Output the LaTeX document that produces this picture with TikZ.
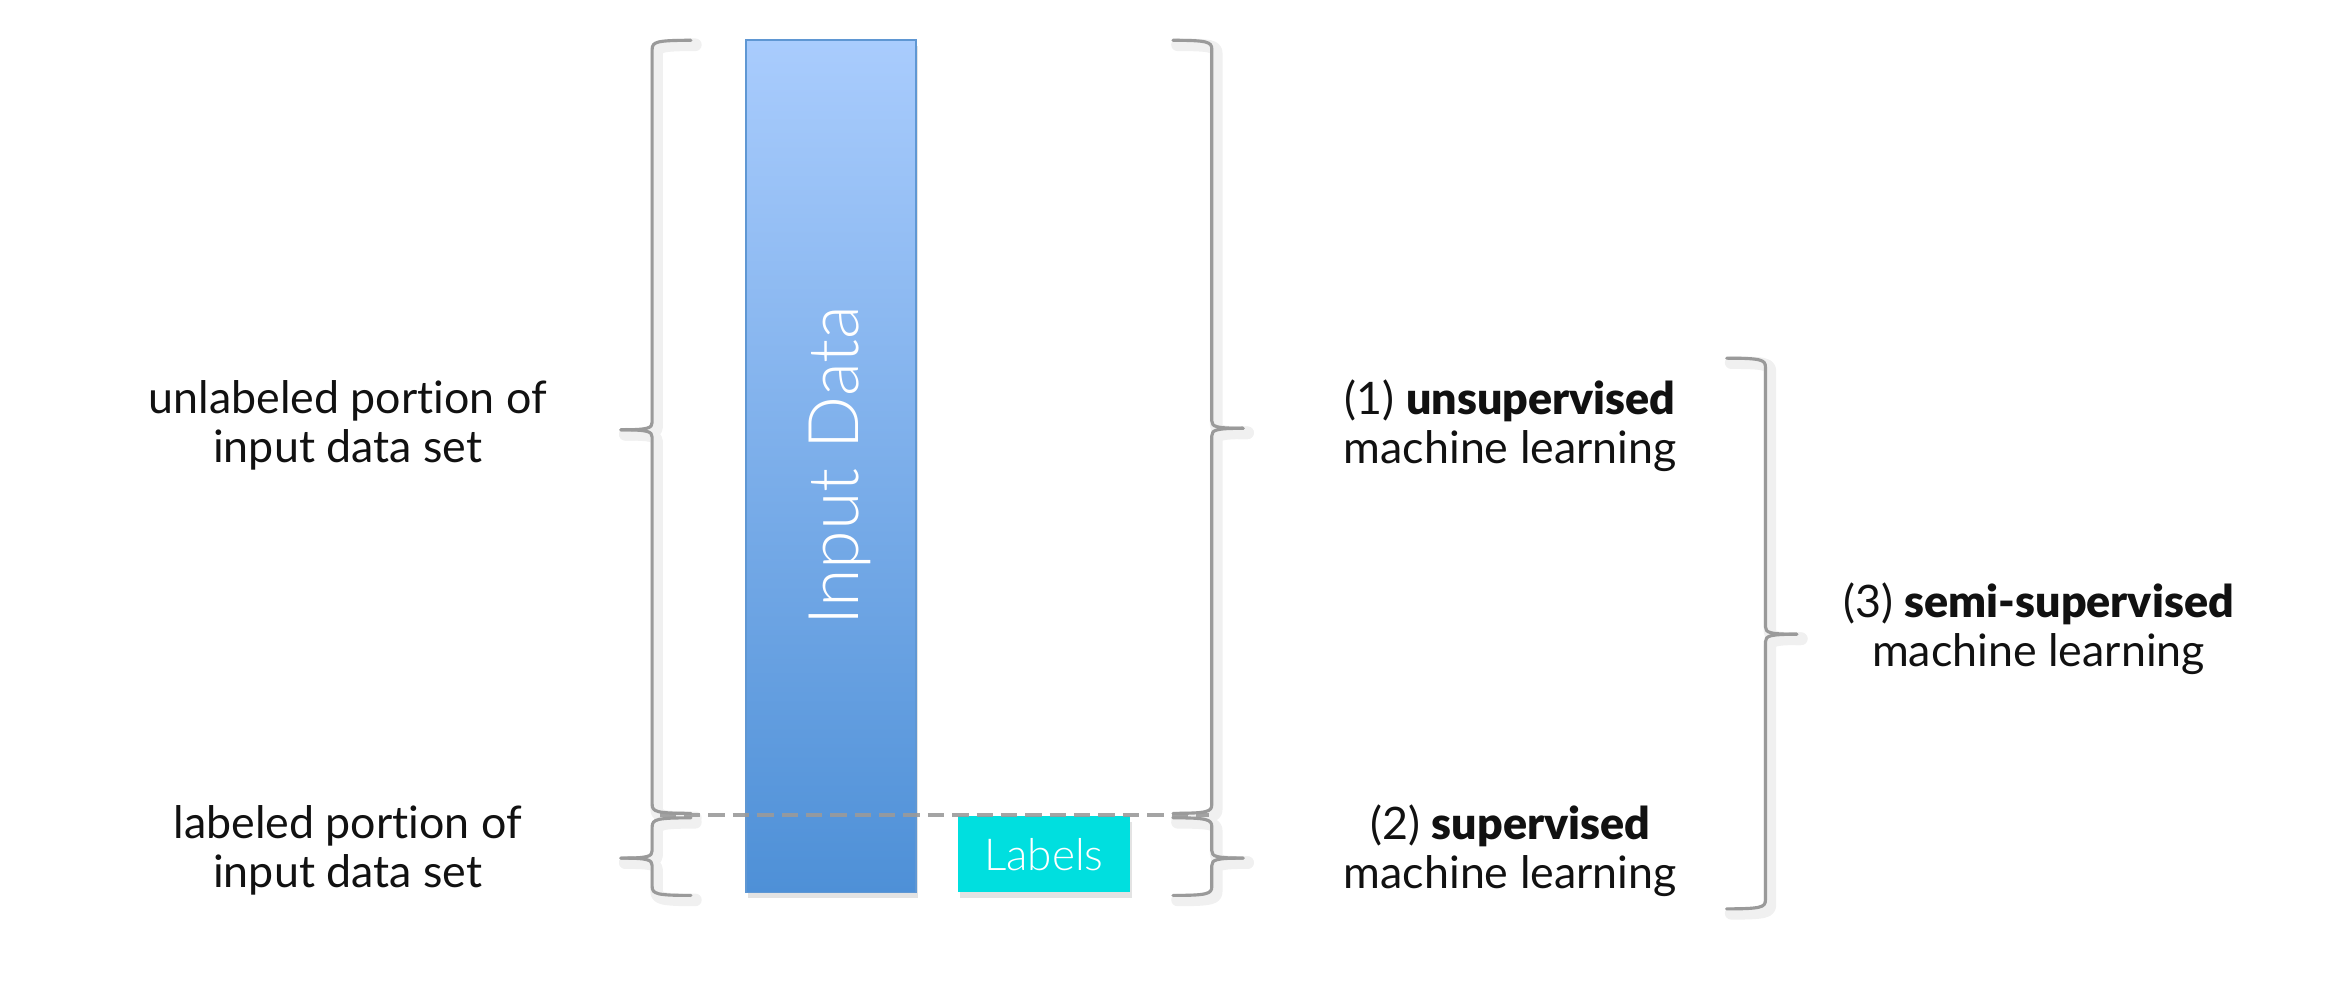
\documentclass[tikz,border=0pt]{standalone}
\usepackage{fontspec}
\setmainfont[Ligatures={NoCommon}]{Lato}
\newfontfamily\lightfont[Ligatures={NoCommon}]{Lato Light}
\newfontfamily\heavyfont[Ligatures={NoCommon}]{Lato Black}
\usetikzlibrary{shadows}
\definecolor{bracegray}{HTML}{9A9A9A}
\definecolor{bartop}{HTML}{A9CCFD}
\definecolor{barbot}{HTML}{4E90D7}
\definecolor{barborder}{HTML}{5F97D3}
\definecolor{labcyan}{HTML}{00DFDF}
\definecolor{txt}{HTML}{111111}
\newcommand\hv[1]{{\heavyfont #1}}
\tikzset{
  bracestyle/.style={draw=bracegray, line width=0.9pt, line cap=round, line join=round},
  braceshadow/.style={draw=black!6, line width=3.6pt, line cap=round, line join=round, shift={(3,3)}},
  dashline/.style={draw=bracegray, opacity=0.9, line width=1.3pt, dash pattern=on 0.165cm off 0.08cm},
  databar/.style={minimum width=1.71cm, minimum height=8.565cm, inner sep=0pt, top color=bartop, bottom color=barbot, draw=barborder, line width=0.5pt, drop shadow={shadow xshift=0.6pt, shadow yshift=-1.6pt, opacity=0.22}},
  labelbox/.style={minimum width=1.725cm, minimum height=0.765cm, inner sep=0pt, fill=labcyan, text=white, font=\lightfont\fontsize{12.6}{14}\selectfont, drop shadow={shadow xshift=0.6pt, shadow yshift=-1.6pt, opacity=0.22}},
  desc/.style={align=center, text=txt, font=\fontsize{12.8}{14}\selectfont, inner sep=0pt}
}
% #2 vertical x, #3 top, #4 tip y, #5 bottom, #6 hook direction (1 = "{", -1 = "}")
\newcommand\mybrace[6][bracestyle]{%
  \draw[#1] (#2+#6*26,#3) .. controls (#2+#6*3,#3) and (#2,#3+1) .. (#2,#3+6) -- (#2,#4-5)
     .. controls (#2,#4-1) and (#2-#6*3,#4) .. (#2-#6*21,#4);
  \draw[#1] (#2-#6*21,#4) .. controls (#2-#6*3,#4) and (#2,#4+1) .. (#2,#4+5) -- (#2,#5-6)
     .. controls (#2,#5-1) and (#2+#6*3,#5) .. (#2+#6*26,#5);
}
\begin{document}
\begin{tikzpicture}[x=0.015cm,y=-0.015cm]
\useasboundingbox (0,0) rectangle (1568,658);
% shadows of braces
\mybrace[braceshadow]{437}{27}{288}{545}{1}
\mybrace[braceshadow]{437}{548}{575}{600}{1}
\mybrace[braceshadow]{812}{27}{287}{545}{-1}
\mybrace[braceshadow]{812}{548}{575}{600}{-1}
\mybrace[braceshadow]{1183}{240}{425}{609}{-1}
% bar and labels
\node[databar] (data) at (557,312.5) {};
\node[rotate=90, text=white, font=\lightfont\fontsize{20}{22}\selectfont, inner sep=0pt] (datatext) at (563,312) {Input Data};
\node[labelbox] (labels) at (699.5,572.5) {Labels};
% braces
\mybrace{437}{27}{288}{545}{1}
\mybrace{437}{548}{575}{600}{1}
\mybrace{812}{27}{287}{545}{-1}
\mybrace{812}{548}{575}{600}{-1}
\mybrace{1183}{240}{425}{609}{-1}
% dashed separator
\coordinate (dl) at (442,546);
\coordinate (dr) at (810,546);
\draw[dashline] (dl) -- (dr);
% descriptions
\node[desc] (unl) at (233,285) {unlabeled portion of\\input data set};
\node[desc] (lab) at (233,570) {labeled portion of\\input data set};
\node[desc] (uns) at (1012,285) {(1) \hv{unsupervised}\\machine learning};
\node[desc] (sup) at (1012,570) {(2) \hv{supervised}\\machine learning};
\node[desc] (semi) at (1366,421) {(3) \hv{semi-supervised}\\machine learning};
\end{tikzpicture}
\end{document}
